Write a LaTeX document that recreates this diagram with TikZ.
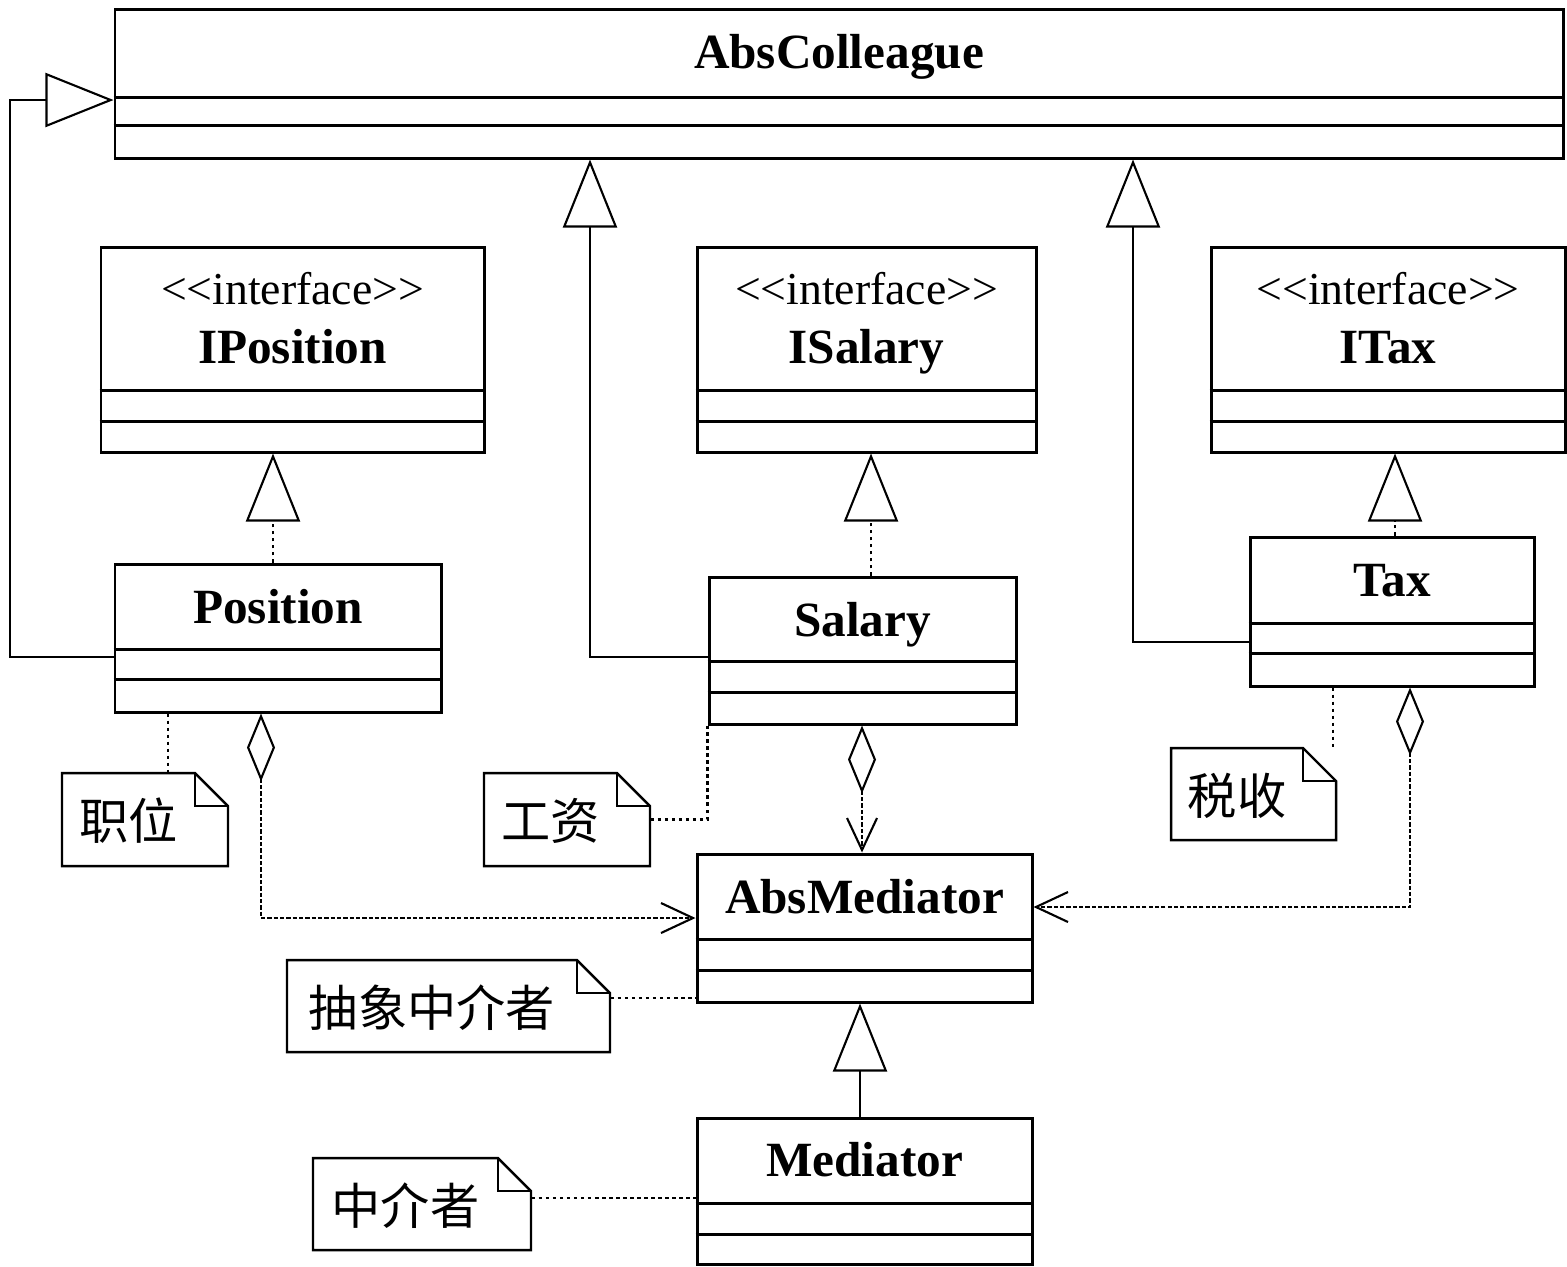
\documentclass[tikz,border=0pt]{standalone}
\usepackage{fontspec}
\setmainfont{Liberation Serif}
\newfontfamily\cjk{Noto Sans CJK SC}
\usetikzlibrary{arrows.meta,fit}
\tikzset{
  >=Straight Barb,
  font=\fontsize{14}{16.8}\selectfont,
}
\tikzstyle{classbox}=[draw,line width=0.85pt]
\tikzstyle{notebox}=[draw,line width=0.7pt]
\tikzstyle{title}=[align=center,anchor=south,inner sep=0pt,text depth=0pt]
\tikzstyle{genline}=[line width=0.6pt,-{Triangle[open,length=6.8mm,width=5.4mm]}]
\tikzstyle{realline}=[genline,dash pattern=on 1pt off 1pt]
\tikzstyle{aggline}=[line width=0.6pt,dash pattern=on 1.2pt off 0.6pt,
  {Diamond[open,length=6.8mm,width=2.8mm]}-{Straight Barb[length=3.2mm,width=3mm]}]
\tikzstyle{notelink}=[line width=0.7pt,dash pattern=on 1pt off 1pt]

% class box: name, left, top, right, bottom, first rule, second rule,
% baseline of the name, title
\newcommand{\umlclass}[9]{%
  \node[classbox,fit={(#2,#3) (#4,#5)},inner sep=0pt] (#1) {};
  \draw[classbox] (#1.west |- 0,#6) -- (#1.east |- 0,#6);
  \draw[classbox] (#1.west |- 0,#7) -- (#1.east |- 0,#7);
  \node[title] at ({(#2+#4)/2},#8) {#9};
}
% note with folded corner: name, left, top, right, bottom, text
\newcommand{\umlnote}[6]{%
  \draw[notebox] (#2,#3) -- ({#4-33},#3) -- (#4,{#3+33}) -- (#4,#5) -- (#2,#5) -- cycle;
  \draw[notebox] ({#4-33},#3) |- (#4,{#3+33});
  \node[fit={(#2,#3) (#4,#5)},inner sep=0pt] (#1) {};
  \node[font=\cjk\fontsize{14}{16}\selectfont,anchor=base]
    at ({(#2+#4-33)/2},{(#3+#5)/2+20}) {#6};
}
\newcommand{\iface}[1]{{\fontsize{13}{16}\selectfont{<}{<}interface{>}{>}}\\\textbf{#1}}

\begin{document}
\begin{tikzpicture}[x=0.01cm,y=-0.01cm]
  \useasboundingbox (0,0) rectangle (1567,1266);

  % classes and interfaces
  \umlclass{absc}{115}{9}{1563}{158}{97}{125}{69}{\textbf{AbsColleague}}
  \umlclass{ipos}{101}{247}{484}{452}{390}{421}{364}{\iface{IPosition}}
  \umlclass{isal}{697}{247}{1036}{452}{390}{421}{364}{\iface{ISalary}}
  \umlclass{itax}{1211}{247}{1565}{452}{390}{421}{364}{\iface{ITax}}
  \umlclass{pos}{115}{564}{441}{712}{649}{679}{624}{\textbf{Position}}
  \umlclass{sal}{709}{577}{1016}{724}{661}{692}{637}{\textbf{Salary}}
  \umlclass{tax}{1250}{537}{1534}{686}{623}{653}{597}{\textbf{Tax}}
  \umlclass{amed}{697}{854}{1032}{1002}{939}{970}{914}{\textbf{AbsMediator}}
  \umlclass{med}{697}{1118}{1032}{1264}{1203}{1234}{1177}{\textbf{Mediator}}

  % notes
  \umlnote{npos}{62}{773}{228}{866}{职位}
  \umlnote{nsal}{484}{773}{650}{866}{工资}
  \umlnote{ntax}{1171}{748}{1336}{840}{税收}
  \umlnote{named}{287}{960}{610}{1052}{抽象中介者}
  \umlnote{nmed}{313}{1158}{531}{1250}{中介者}

  % inheritance
  \draw[genline] (pos.west |- 0,657) -| (10,100) -- (absc.west |- 0,100);
  \draw[genline] (sal.west |- 0,657) -| (absc.south -| 590,0);
  \draw[genline] (tax.west |- 0,642) -| (absc.south -| 1133,0);
  \draw[genline] (med.north -| 860,0) -- (amed.south -| 860,0);

  % realization
  \draw[realline] (pos.north -| 273,0) -- (ipos.south -| 273,0);
  \draw[realline] (sal.north -| 871,0) -- (isal.south -| 871,0);
  \draw[realline] (tax.north -| 1395,0) -- (itax.south -| 1395,0);

  % aggregation
  \draw[aggline] (pos.south -| 261,0) |- (amed.west |- 0,918);
  \draw[aggline] (sal.south -| 862,0) -- (amed.north -| 862,0);
  \draw[aggline] (tax.south -| 1410,0) |- (amed.east |- 0,907);

  % note links
  \draw[notelink] (pos.south -| 168,0) -- (npos.north -| 168,0);
  \draw[notelink] (nsal.east) -| (sal.south west);
  \draw[notelink] (tax.south -| 1333,0) -- (ntax.north -| 1333,0);
  \draw[notelink] (named.east |- 0,998) -- (amed.west |- 0,998);
  \draw[notelink] (nmed.east |- 0,1198) -- (med.west |- 0,1198);
\end{tikzpicture}
\end{document}
